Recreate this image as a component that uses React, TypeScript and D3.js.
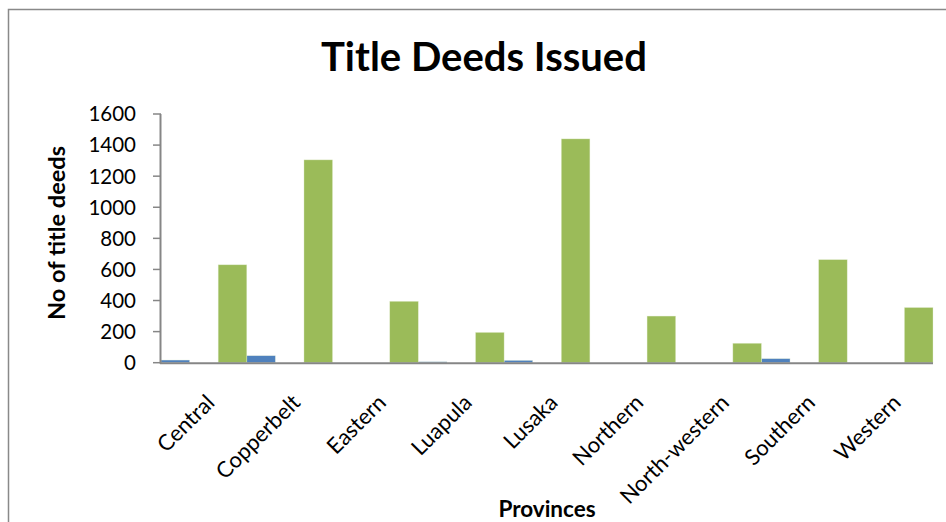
import React from "react";
import * as d3 from "d3";

const provinces = ["Central", "Copperbelt", "Eastern", "Luapula", "Lusaka", "Northern", "North-western", "Southern", "Western"];
const seriesNames = ["Series1", "Series2", "Series3"];
const series1 = [17, 45, 0, 6, 15, 0, 0, 26, 0];
const series2 = [0, 0, 0, 0, 0, 0, 0, 0, 0];
const series3 = [630, 1305, 395, 195, 1440, 300, 125, 663, 355];
const seriesColors = ["#4F81BD", "#C0504D", "#9BBB59"];
const yTicks = [0, 200, 400, 600, 800, 1000, 1200, 1400, 1600];

const W = 946;
const H = 522;
const font = "Lato, 'Open Sans', sans-serif";

export default function App() {
  const x0 = 161;
  const x1 = 933;
  const yTop = 114;
  const yBase = 362.7;
  const xScale = d3.scaleBand<string>().domain(provinces).range([x0, x1]).paddingInner(0).paddingOuter(0);
  const xSub = d3.scaleBand<string>().domain(seriesNames).range([0, xScale.bandwidth()]).padding(0);
  const yScale = d3.scaleLinear().domain([0, 1600]).range([yBase, yTop]);
  const data = [series1, series2, series3];

  return (
    <svg width={W} height={H} style={{ position: "absolute", left: 0, top: 0, background: "#fff" }}>
      <rect x={0} y={0} width={W} height={H} fill="#fff" />
      <path d={`M8.5,${H} L8.5,9.5 L${W + 2},9.5`} fill="none" stroke="#898989" strokeWidth={1.5} />
      <text x={484} y={71} textAnchor="middle" fontFamily={font} fontWeight="bold" fontSize={40} fill="#000">Title Deeds Issued</text>
      {data.map((vals, si) =>
        vals.map((v, i) => {
          const x = (xScale(provinces[i]) ?? 0) + (xSub(seriesNames[si]) ?? 0);
          const y = yScale(v);
          return v > 0 ? (
            <rect key={`${si}-${i}`} x={x} y={y} width={xSub.bandwidth()} height={yBase - y} fill={seriesColors[si]} stroke="#e8f0d8" strokeOpacity={0.6} strokeWidth={0.6} />
          ) : null;
        })
      )}
      <line x1={x0 - 0.5} x2={x0 - 0.5} y1={yTop} y2={yBase + 1} stroke="#868686" strokeWidth={2} />
      {yTicks.map((t) => (
        <g key={t}>
          <line x1={x0 - 8} x2={x0} y1={yScale(t)} y2={yScale(t)} stroke="#868686" strokeWidth={1.5} />
          <text x={136} y={yScale(t)} dy="0.36em" textAnchor="end" fontFamily={font} fontSize={20.5} fill="#000">{t}</text>
        </g>
      ))}
      <line x1={x0 - 1} x2={x1} y1={yBase + 0.5} y2={yBase + 0.5} stroke="#868686" strokeWidth={2} />
      {provinces.map((p) => {
        const cx = (xScale(p) ?? 0) + xScale.bandwidth() / 2 + 12;
        const cy = 404;
        return (
          <text key={p} x={cx} y={cy} textAnchor="end" transform={`rotate(-45 ${cx} ${cy})`} fontFamily={font} fontSize={22} fill="#000">{p}</text>
        );
      })}
      <text x={547} y={517} textAnchor="middle" fontFamily={font} fontWeight="bold" fontSize={22.5} fill="#000">Provinces</text>
      <text transform={`translate(65 ${233}) rotate(-90)`} textAnchor="middle" fontFamily={font} fontWeight="bold" fontSize={23.5} fill="#000">No of title deeds</text>
    </svg>
  );
}
